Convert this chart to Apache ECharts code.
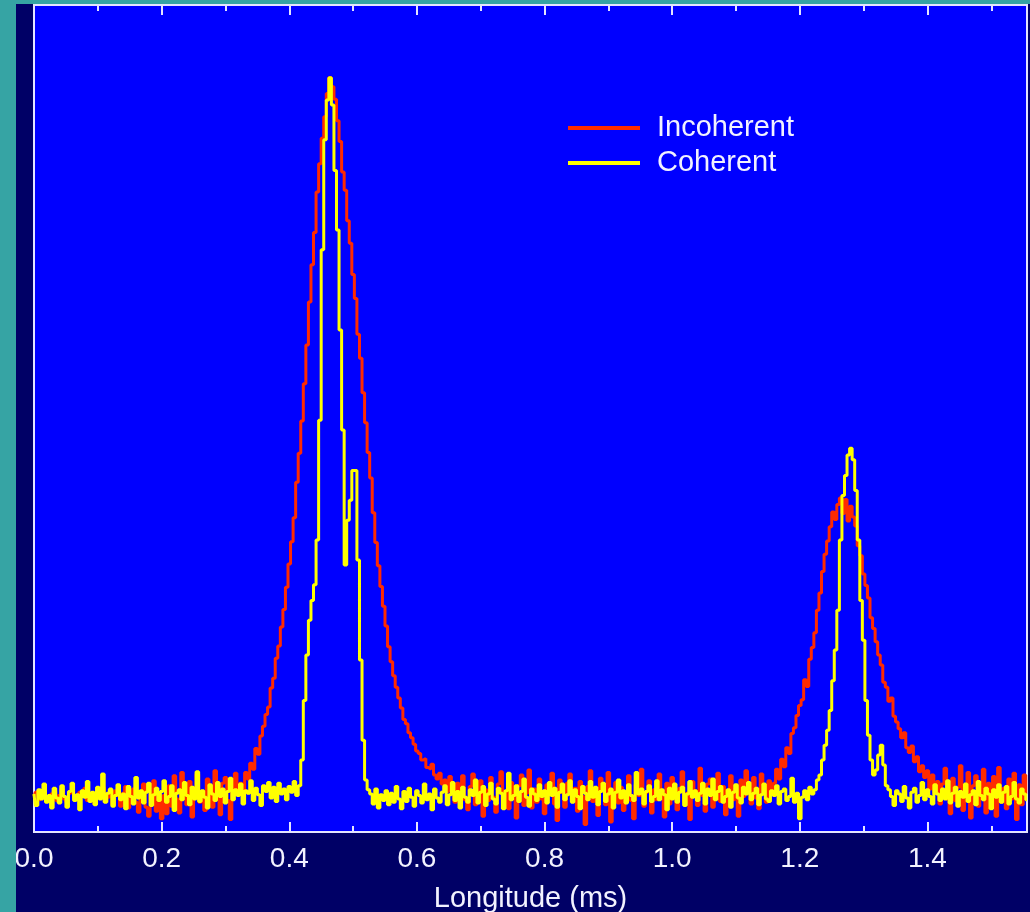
<!DOCTYPE html>
<html><head><meta charset="utf-8">
<script src="https://cdn.jsdelivr.net/npm/echarts@6/dist/echarts.min.js"></script>
<style>
html,body{margin:0;padding:0;background:#36a4a4;width:1030px;height:912px;overflow:hidden;}
#chart{position:absolute;left:16px;top:4px;width:1014px;height:908px;}
</style></head><body><div id="chart"></div>
<script>
// ---- data ----
const seriesNames = ['Incoherent', 'Coherent'];
const xLabel = 'Longitude (ms)';
const xMin = 0, xMax = 1.556;          // ms
const majorStep = 0.2, minorStep = 0.1; // tick spacing (ms)
const sampleStep = 0.004;              // ms between samples, first sample at 0
const yMin = 0, yMax = 100;            // arbitrary intensity units

const incoherent = [
 4.3, 4.8, 3.9, 4.5, 5.0, 4.1, 3.7, 4.6, 4.9, 3.8,
 4.4, 5.2, 4.0, 3.6, 4.7, 5.1, 4.2, 3.9, 4.8, 4.4,
 5.3, 3.8, 4.5, 4.1, 3.4, 4.9, 4.6, 5.4, 3.7, 4.2,
 4.8, 3.3, 5.0, 4.4, 3.1, 4.7, 5.5, 2.9, 4.3, 5.2,
 3.6, 2.4, 4.9, 5.8, 3.0, 1.9, 4.6, 6.2, 2.5, 3.8,
 1.6, 4.4, 2.2, 5.6, 3.1, 6.8, 4.0, 2.3, 7.2, 4.5,
 3.3, 6.1, 1.8, 5.2, 7.0, 3.6, 4.8, 2.6, 6.4, 5.5,
 3.0, 7.4, 4.7, 2.1, 5.9, 6.6, 3.8, 1.5, 5.3, 7.1,
 4.6, 5.9, 5.0, 7.2, 6.4, 8.3, 7.6, 10.1, 9.4, 11.6,
 12.8, 14.2, 15.1, 17.4, 18.6, 21.0, 22.5, 24.8, 26.9, 29.6,
 32.4, 35.1, 38.0, 42.3, 45.8, 49.7, 54.2, 58.9, 64.1, 68.6,
 72.5, 77.4, 80.8, 83.9, 86.5, 89.3, 91.2, 90.1, 88.6, 86.0,
 83.5, 79.8, 77.6, 73.9, 71.2, 67.4, 64.5, 60.2, 57.3, 53.1,
 49.5, 45.9, 42.8, 38.6, 35.0, 32.2, 29.7, 27.3, 24.9, 22.4,
 20.6, 18.9, 17.5, 16.2, 15.0, 13.6, 13.1, 12.0, 11.4, 10.6,
 9.8, 9.5, 8.7, 8.9, 7.8, 7.6, 8.2, 6.9, 6.4, 7.1,
 5.8, 6.3, 4.9, 6.7, 5.2, 3.6, 5.9, 4.4, 6.8, 3.9,
 2.7, 5.5, 7.0, 3.3, 4.6, 6.2, 1.9, 5.1, 3.8, 6.6,
 4.2, 2.4, 5.8, 7.3, 3.5, 4.9, 2.8, 6.0, 4.4, 1.7,
 5.6, 6.9, 3.2, 4.7, 7.5, 2.9, 5.2, 3.6, 6.4, 4.0,
 2.2, 5.7, 4.5, 7.1, 3.4, 1.4, 6.3, 4.8, 3.0, 5.9,
 7.0, 3.9, 5.3, 2.5, 6.1, 4.3, 0.9, 5.5, 7.4, 3.7,
 4.6, 2.0, 6.5, 5.0, 3.3, 7.2, 1.2, 4.9, 6.0, 3.5,
 5.4, 2.6, 4.1, 6.8, 3.8, 1.6, 5.7, 4.4, 7.6, 3.1,
 4.8, 6.2, 2.3, 5.1, 3.9, 7.0, 4.5, 1.8, 5.9, 3.4,
 6.6, 4.2, 2.7, 5.3, 7.3, 3.6, 4.7, 1.5, 6.1, 5.0,
 3.2, 7.7, 4.4, 2.5, 5.8, 6.4, 3.0, 4.9, 7.1, 3.7,
 5.5, 2.1, 4.6, 6.8, 3.9, 5.2, 1.9, 6.3, 4.3, 7.4,
 5.0, 3.4, 6.6, 4.1, 2.8, 7.0, 5.7, 3.6, 6.2, 4.8,
 5.9, 7.6, 6.4, 8.8, 7.9, 10.2, 9.5, 11.9, 12.6, 14.1,
 15.3, 16.0, 18.4, 17.6, 20.9, 22.3, 24.1, 26.8, 28.9, 31.5,
 33.6, 35.2, 36.9, 38.7, 37.8, 39.6, 40.4, 38.5, 40.2, 37.6,
 39.4, 38.1, 37.0, 34.6, 33.4, 31.2, 29.8, 28.3, 25.9, 24.6,
 23.0, 21.4, 20.2, 18.1, 17.5, 15.8, 16.2, 14.0, 13.3, 12.5,
 11.4, 12.0, 10.2, 9.6, 10.4, 8.5, 9.1, 7.3, 8.0, 6.6,
 7.4, 5.2, 6.9, 4.7, 6.1, 3.4, 5.8, 7.7, 4.0, 2.2,
 6.5, 3.8, 5.4, 8.0, 2.6, 4.9, 7.2, 1.7, 5.6, 6.8,
 3.1, 4.5, 7.6, 2.3, 5.9, 4.2, 6.7, 1.9, 7.8, 3.6,
 5.3, 2.8, 6.4, 4.0, 7.1, 1.5, 5.7, 3.3, 6.9, 4.6
];

const coherent = [
 4.6, 3.2, 5.1, 4.0, 5.8, 3.6, 4.4, 2.9, 5.3, 4.1,
 3.5, 5.6, 4.3, 3.0, 4.9, 5.9, 3.8, 4.5, 2.7, 5.0,
 4.2, 6.1, 3.7, 4.8, 3.3, 5.4, 4.0, 7.0, 3.6, 4.7,
 5.2, 3.1, 4.4, 5.7, 3.9, 4.6, 2.8, 5.5, 4.3, 3.4,
 6.6, 4.1, 5.0, 3.5, 4.8, 5.9, 3.2, 4.5, 5.3, 3.8,
 4.9, 6.2, 3.6, 4.3, 5.6, 2.6, 4.7, 5.1, 3.9, 6.0,
 4.4, 3.3, 5.4, 4.0, 7.3, 3.7, 5.0, 4.2, 2.9, 5.7,
 4.6, 3.8, 6.0, 4.3, 5.2, 3.5, 4.9, 6.5, 3.9, 5.1,
 4.4, 5.8, 3.4, 5.0, 4.7, 6.2, 3.8, 5.3, 4.5, 3.2,
 5.6, 4.9, 6.0, 4.1, 5.4, 3.7, 5.9, 4.6, 5.2, 3.9,
 5.5, 4.8, 6.1, 4.4, 5.6, 8.7, 15.9, 21.4, 25.6, 28.0,
 29.9, 35.3, 49.8, 70.4, 83.7, 88.5, 91.2, 87.9, 80.0, 72.8,
 60.7, 48.6, 32.3, 37.7, 40.1, 43.7, 43.7, 32.9, 20.8, 11.1,
 6.3, 5.1, 4.6, 3.4, 5.2, 2.9, 4.5, 3.8, 5.0, 3.3,
 4.7, 3.6, 5.5, 4.0, 2.8, 4.9, 3.7, 5.3, 4.2, 3.1,
 5.0, 4.4, 3.5, 5.8, 3.9, 4.6, 2.7, 5.2, 4.1, 3.6,
 4.8, 5.6, 3.3, 4.5, 6.0, 3.8, 4.9, 2.9, 5.4, 4.2,
 3.6, 5.1, 4.4, 6.3, 3.5, 4.8, 5.5, 3.2, 4.6, 5.9,
 4.0, 3.4, 5.3, 4.7, 2.8, 5.0, 7.1, 3.9, 4.4, 5.6,
 3.7, 4.9, 6.4, 4.2, 3.1, 5.2, 4.6, 3.8, 5.7, 4.3,
 5.0, 3.5, 6.0, 4.4, 5.3, 3.0, 4.8, 5.8, 3.9, 4.5,
 6.2, 3.6, 5.1, 4.3, 2.8, 5.5, 4.7, 3.9, 6.1, 4.2,
 5.4, 3.3, 4.9, 5.9, 3.7, 4.6, 5.2, 2.9, 4.8, 6.3,
 4.1, 5.0, 3.5, 5.7, 4.4, 3.8, 7.2, 4.6, 5.2, 3.4,
 4.9, 5.6, 3.7, 4.3, 6.2, 3.9, 5.1, 4.5, 2.7, 5.3,
 4.0, 5.8, 3.6, 4.8, 5.4, 3.2, 4.6, 6.1, 4.2, 5.0,
 3.8, 4.7, 5.9, 3.4, 5.2, 4.4, 6.4, 3.9, 4.9, 5.5,
 3.6, 4.3, 5.1, 3.0, 4.8, 5.7, 4.1, 3.5, 5.4, 4.6,
 6.0, 3.9, 4.7, 5.3, 3.3, 4.5, 5.8, 4.0, 3.7, 5.0,
 4.4, 5.6, 3.4, 4.9, 5.2, 3.8, 4.3, 6.5, 3.6, 4.7,
 1.6, 4.2, 5.0, 3.9, 5.4, 4.6, 5.1, 6.3, 6.9, 8.7,
 10.5, 12.3, 14.7, 18.3, 22.0, 26.8, 35.3, 40.7, 43.1, 45.6,
 46.4, 45.0, 41.3, 35.3, 28.0, 23.2, 15.9, 11.7, 8.7, 6.9,
 7.5, 9.3, 10.5, 8.1, 5.6, 5.1, 4.3, 3.2, 5.0, 4.6,
 3.7, 5.5, 4.1, 2.9, 4.8, 5.3, 3.6, 4.4, 6.0, 3.9,
 5.1, 4.3, 3.4, 5.7, 4.6, 3.8, 5.2, 4.0, 6.2, 3.5,
 4.7, 5.4, 3.1, 4.9, 4.2, 5.8, 3.7, 4.5, 5.0, 3.3,
 6.1, 4.4, 3.9, 5.3, 4.6, 2.8, 5.1, 4.2, 5.7, 3.6,
 4.8, 5.5, 3.4, 4.3, 6.0, 4.0, 3.5, 5.2, 4.6, 3.9
];

// ---- build chart ----
const FONT = '"Liberation Sans", Arial, Helvetica, sans-serif';
const TXT = '#f2f2ff';
const TICK = '#e4e4ff';
function pairs(arr) { return arr.map((v, i) => [+(xMin + i * sampleStep).toFixed(4), v]); }

function xAx(position, interval, len, withLabels) {
  const ax = {
    type: 'value', position: position, min: xMin, max: xMax, interval: interval,
    axisLine: { show: false },
    axisTick: { show: true, inside: true, length: len, lineStyle: { color: TICK, width: 2 } },
    splitLine: { show: false },
    axisLabel: { show: false }
  };
  if (withLabels) {
    ax.axisLabel = {
      show: true, color: TXT, fontSize: 28, fontFamily: FONT, margin: 13,
      formatter: function (v) {
        const k = v / majorStep;
        return Math.abs(k - Math.round(k)) < 1e-6 ? v.toFixed(1) : '';
      }
    };
    ax.name = xLabel;
    ax.nameLocation = 'middle';
    ax.nameGap = 52;
    ax.nameTextStyle = { color: TXT, fontSize: 29, fontFamily: FONT };
  }
  return ax;
}

const chart = echarts.init(document.getElementById('chart'), null, { renderer: 'canvas' });
chart.setOption({
  backgroundColor: '#000066',
  animation: false,
  grid: { left: 18, right: 3, top: 1, bottom: 80, show: true, backgroundColor: '#0000ff',
          borderColor: TICK, borderWidth: 2, containLabel: false, outerBoundsMode: 'none' },
  legend: {
    orient: 'vertical', left: 552, top: 109, padding: 0, itemGap: 5,
    itemWidth: 72, itemHeight: 4, icon: 'rect',
    textStyle: { color: TXT, fontSize: 29, fontFamily: FONT, lineHeight: 30, padding: [0, 0, 0, 12] },
    data: seriesNames
  },
  xAxis: [
    xAx('bottom', majorStep, 10, true),
    xAx('bottom', minorStep, 6, false),
    xAx('top', majorStep, 10, false),
    xAx('top', minorStep, 6, false)
  ],
  yAxis: { type: 'value', min: yMin, max: yMax, show: false },
  series: [
    { name: seriesNames[0], type: 'line', step: 'middle', showSymbol: false, symbol: 'none',
      xAxisIndex: 0, color: '#ff2a00', lineStyle: { color: '#ff2a00', width: 3 },
      data: pairs(incoherent) },
    { name: seriesNames[1], type: 'line', step: 'middle', showSymbol: false, symbol: 'none',
      xAxisIndex: 0, color: '#ffff00', lineStyle: { color: '#ffff00', width: 3 },
      data: pairs(coherent) }
  ]
});
</script></body></html>
